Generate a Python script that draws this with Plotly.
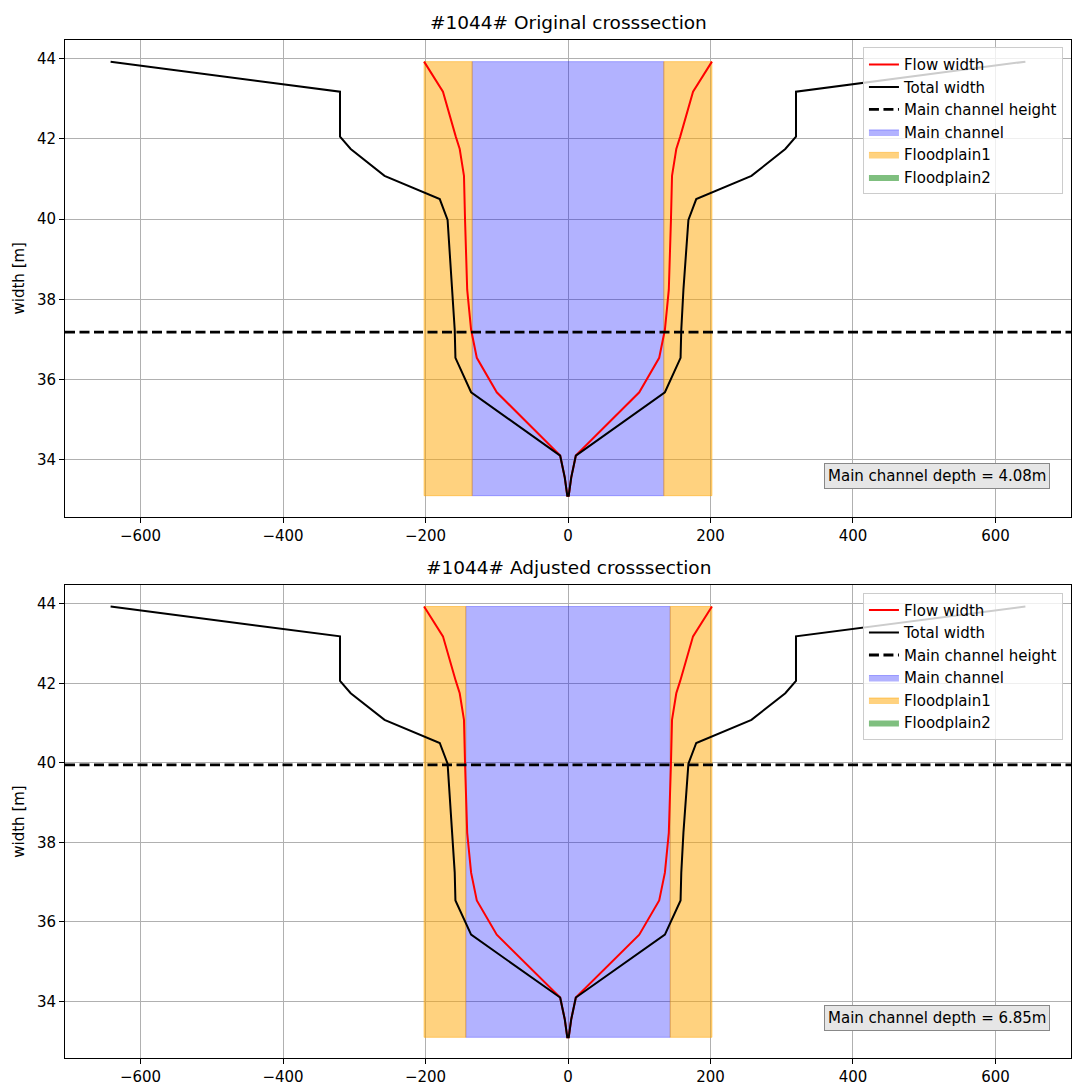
import plotly.graph_objects as go

# ---- data ----
levels = [33.10, 33.55, 34.10, 35.68, 36.54, 37.24, 38.24, 39.98, 40.50, 41.08, 41.75, 42.06, 43.18, 43.93]
total_width = [2, 9, 22, 272, 316, 318, 324, 338, 360, 515, 610, 640, 640, 1284]
flow_width = [2, 9, 22, 200, 256, 272, 283, 289, 291, 292, 304, 315, 351, 404]

bed_level = 33.10
titles = ["#1044# Original crosssection", "#1044# Adjusted crosssection"]
main_channel_width = [269, 287]
main_channel_depth = [4.08, 6.85]
floodplain1_width = [404, 404]
floodplain2_width = [404, 404]

x_range = [-706, 706]
y_range = [32.58, 44.47]

FONT = "DejaVu Sans"
FS = 15

fig = go.Figure()


def mirror(widths, ys):
    half = [w / 2 for w in widths]
    xs = [-h for h in half[::-1]] + half
    yy = list(ys[::-1]) + list(ys)
    return xs, yy


def band(inner, outer, y0, y1):
    a, b = inner / 2, outer / 2
    xs = [-b, -a, -a, -b, -b, None, a, b, b, a, a]
    ys = [y0, y0, y1, y1, y0, None, y0, y0, y1, y1, y0]
    return xs, ys


top = levels[-1]
for i in range(2):
    xa = "x" if i == 0 else "x2"
    ya = "y" if i == 0 else "y2"
    lg = "legend" if i == 0 else "legend2"
    mch = bed_level + main_channel_depth[i]

    # fills
    mw = main_channel_width[i] / 2
    fig.add_trace(go.Scatter(
        x=[-mw, mw, mw, -mw, -mw], y=[bed_level, bed_level, top, top, bed_level],
        mode="lines", fill="toself", fillcolor="rgba(0,0,255,0.3)",
        line=dict(color="rgba(0,0,255,0.3)", width=1),
        name="Main channel", xaxis=xa, yaxis=ya, legend=lg, legendrank=4, hoverinfo="skip"))
    fx, fy = band(main_channel_width[i], floodplain1_width[i], bed_level, top)
    fig.add_trace(go.Scatter(
        x=fx, y=fy, mode="lines", fill="toself", fillcolor="rgba(255,165,0,0.5)",
        line=dict(color="rgba(255,165,0,0.5)", width=1),
        name="Floodplain1", xaxis=xa, yaxis=ya, legend=lg, legendrank=5, hoverinfo="skip"))
    gx, gy = band(floodplain1_width[i], floodplain2_width[i], bed_level, top)
    fig.add_trace(go.Scatter(
        x=gx, y=gy, mode="lines", fill="toself", fillcolor="rgba(0,128,0,0.5)",
        line=dict(color="rgba(0,128,0,0.5)", width=0),
        name="Floodplain2", xaxis=xa, yaxis=ya, legend=lg, legendrank=6, hoverinfo="skip"))

    # lines
    rx, ry = mirror(flow_width, levels)
    fig.add_trace(go.Scatter(
        x=rx, y=ry, mode="lines", line=dict(color="red", width=2),
        name="Flow width", xaxis=xa, yaxis=ya, legend=lg, legendrank=1))
    kx, ky = mirror(total_width, levels)
    fig.add_trace(go.Scatter(
        x=kx, y=ky, mode="lines", line=dict(color="black", width=2),
        name="Total width", xaxis=xa, yaxis=ya, legend=lg, legendrank=2))
    fig.add_trace(go.Scatter(
        x=x_range, y=[mch, mch], mode="lines",
        line=dict(color="black", width=2.8, dash="10px,4.5px"),
        name="Main channel height", xaxis=xa, yaxis=ya, legend=lg, legendrank=3))

    fig.add_annotation(
        text=f"Main channel depth = {main_channel_depth[i]:.2f}m",
        xref=f"{xa} domain", yref=f"{ya} domain", x=0.979, y=0.057,
        xanchor="right", yanchor="bottom", showarrow=False,
        font=dict(family=FONT, size=FS, color="black"),
        bgcolor="#e6e6e6", bordercolor="#888888", borderwidth=1, borderpad=3)

axis_common = dict(
    showgrid=True, gridcolor="#b0b0b0", gridwidth=1, zeroline=False,
    showline=True, linecolor="black", linewidth=1, mirror=True,
    ticks="outside", ticklen=5, tickcolor="black", tickwidth=1, automargin=False,
    tickfont=dict(family=FONT, size=FS, color="black"))

legend_common = dict(
    xanchor="right", yanchor="top", bgcolor="rgba(255,255,255,0.8)",
    bordercolor="#cccccc", borderwidth=1, itemwidth=30,
    font=dict(family=FONT, size=FS, color="black"), traceorder="normal")

fig.update_layout(
    width=1072, height=1086,
    margin=dict(l=65, r=1, t=40, b=28, autoexpand=False),
    plot_bgcolor="white", paper_bgcolor="white",
    font=dict(family=FONT, color="black"),
    xaxis=dict(domain=[0, 1], anchor="y", range=x_range, dtick=200, **axis_common),
    yaxis=dict(domain=[0.5319, 1.0], anchor="x", range=y_range, dtick=2,
               title=dict(text="width [m]", font=dict(family=FONT, size=FS), standoff=8),
               **axis_common),
    xaxis2=dict(domain=[0, 1], anchor="y2", range=x_range, dtick=200, **axis_common),
    yaxis2=dict(domain=[0.0, 0.4646], anchor="x2", range=y_range, dtick=2,
                title=dict(text="width [m]", font=dict(family=FONT, size=FS), standoff=8),
                **axis_common),
    legend=dict(x=0.992, y=0.993, **legend_common),
    legend2=dict(x=0.992, y=0.457, **legend_common),
    showlegend=True,
)

fig.add_annotation(text=titles[0], xref="x domain", yref="y domain", x=0.5, y=1.0,
                   xanchor="center", yanchor="bottom", yshift=5, showarrow=False,
                   font=dict(family=FONT, size=18.5, color="black"))
fig.add_annotation(text=titles[1], xref="x2 domain", yref="y2 domain", x=0.5, y=1.0,
                   xanchor="center", yanchor="bottom", yshift=5, showarrow=False,
                   font=dict(family=FONT, size=18.5, color="black"))

fig.write_html("out.html")
